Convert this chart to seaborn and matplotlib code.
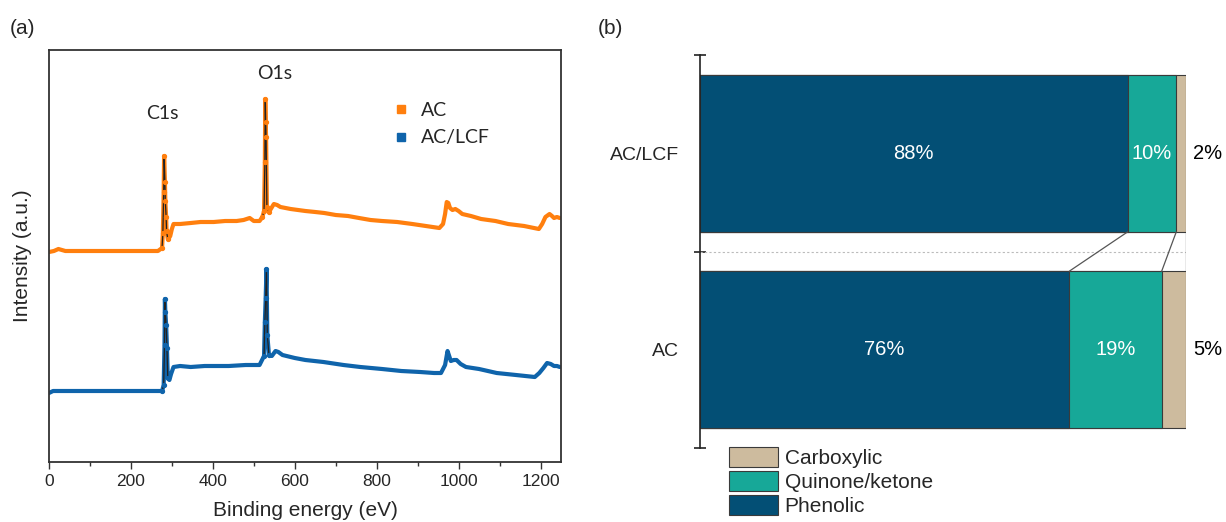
import numpy as np
import pandas as pd
import matplotlib
matplotlib.use("Agg")
import matplotlib.pyplot as plt
from matplotlib.lines import Line2D
from matplotlib.patches import Patch
import seaborn as sns

# ---------------- data ----------------
# XPS survey spectra (binding energy in eV, intensity in a.u.)
ac_energy = [0, 12, 23, 40, 80, 140, 200, 250, 266, 276, 278, 280, 281, 283, 284, 286, 287, 290,
             293, 296, 300, 304, 320, 346, 370, 402, 430, 458, 475, 490, 500, 514, 521, 525,
             527, 528, 529, 530, 532, 537, 543, 549, 557, 565, 590, 626, 650, 672, 700, 730,
             757, 785, 813, 850, 887, 920, 953, 962, 967, 971, 975, 979, 985, 992, 1000, 1009,
             1030, 1055, 1090, 1121, 1160, 1196, 1204, 1212, 1222, 1228, 1233, 1240, 1247]
ac_int = [210, 211, 213, 211, 211, 211, 211, 211, 211, 214, 229, 270, 306, 280, 261, 245, 231, 223,
          224, 226, 233, 238, 238, 239, 240, 240, 241, 241, 242, 244, 241, 241, 245, 251,
          300, 363, 340, 325, 255, 250, 254, 258, 257, 255, 253, 251, 250, 249, 247, 246,
          244, 242, 241, 240, 238, 236, 234, 238, 248, 260, 259, 254, 252, 253, 251, 248,
          246, 243, 241, 238, 236, 233, 238, 245, 248, 246, 244, 245, 244]

lcf_energy = [0, 10, 20, 60, 120, 180, 240, 276, 280, 282, 283, 284, 286, 288, 290, 294, 298,
              304, 320, 346, 380, 439, 480, 514, 525, 527, 529, 531, 533, 537, 544, 553, 560,
              570, 600, 626, 670, 719, 760, 813, 860, 906, 940, 957, 967, 973, 977, 981, 988,
              995, 1005, 1018, 1050, 1093, 1140, 1186, 1197, 1207, 1216, 1225, 1233, 1240, 1247]
lcf_int = [69, 71, 71, 71, 71, 71, 71, 71, 77, 117, 163, 150, 137, 114, 84, 82, 88,
           95, 96, 95, 96, 96, 97, 97, 106, 140, 164, 193, 127, 107, 106, 111, 110,
           107, 104, 102, 100, 97, 95, 93, 91, 90, 89, 89, 97, 111, 106, 101, 102,
           102, 98, 95, 93, 89, 87, 85, 89, 94, 99, 98, 96, 96, 95]

# Oxygen functional group distribution (%)
samples = ["AC/LCF", "AC"]
phenolic = [88, 76]
quinone = [10, 19]
carboxylic = [2, 5]
group_names = ["Carboxylic", "Quinone/ketone", "Phenolic"]

# ---------------- style ----------------
sns.set_style("white")
plt.rcParams["font.family"] = ["Liberation Sans", "DejaVu Sans"]

W, H = 1226, 522
fig = plt.figure(figsize=(W / 100, H / 100), dpi=100)

def ax_rect(x0, y0, x1, y1):
    return [x0 / W, 1 - y1 / H, (x1 - x0) / W, (y1 - y0) / H]

# ---------------- panel (a) ----------------
axa = fig.add_axes(ax_rect(49, 50, 561, 462))
c_ac = "#FF7F0E"
c_lcf = "#0F64AB"

df_ac = pd.DataFrame({"E": ac_energy, "I": ac_int})
df_lcf = pd.DataFrame({"E": lcf_energy, "I": lcf_int})

for df, col in [(df_ac, c_ac), (df_lcf, c_lcf)]:
    sns.lineplot(data=df, x="E", y="I", color=col, lw=3.0, ax=axa, sort=True)
    for lo, hi in [(276, 290), (521, 537)]:
        seg = df[(df["E"] >= lo) & (df["E"] <= hi)]
        axa.plot(seg["E"], seg["I"], color="#222222", lw=0.9)
        axa.plot(seg["E"], seg["I"], ls="none", marker="o", ms=2.8, color=col)

axa.set_xlim(0, 1250)
axa.set_ylim(0, 412)
axa.set_yticks([])
axa.set_xticks([0, 200, 400, 600, 800, 1000, 1200])
axa.set_xticks(np.arange(100, 1250, 200), minor=True)
axa.tick_params(axis="x", which="major", direction="out", length=5, width=1,
                labelsize=12.5, bottom=True, color="#333333", pad=4)
axa.tick_params(axis="x", which="minor", direction="out", length=3, width=1,
                bottom=True, color="#333333")
for s in axa.spines.values():
    s.set_color("#333333")
    s.set_linewidth(1.3)
axa.set_xlabel("Binding energy (eV)", fontsize=15, labelpad=8)
axa.set_ylabel("Intensity (a.u.)", fontsize=15, labelpad=12)

axa.text(276, 349, "C1s", fontsize=14, ha="center", va="center", family=["Lato", "DejaVu Sans"])
axa.text(551, 389, "O1s", fontsize=14, ha="center", va="center", family=["Lato", "DejaVu Sans"])

leg_a = axa.legend(handles=[Line2D([], [], ls="none", marker="s", ms=6, color=c_ac, label="AC"),
                            Line2D([], [], ls="none", marker="s", ms=6, color=c_lcf, label="AC/LCF")],
                   loc="upper left", bbox_to_anchor=(382 / W, 1 - 92 / H), bbox_transform=fig.transFigure,
                   frameon=False, handlelength=1.0, handletextpad=0.5, labelspacing=0.55,
                   borderpad=0, prop={"family": ["Lato", "DejaVu Sans"], "size": 14})

fig.text(10 / W, 1 - 28 / H, "(a)", fontsize=15, ha="left", va="center")
fig.text(598 / W, 1 - 28 / H, "(b)", fontsize=15, ha="left", va="center")

# ---------------- panel (b) ----------------
axb = fig.add_axes(ax_rect(700, 55, 1186, 448))
col_ph = "#034F75"
col_qu = "#17A898"
col_ca = "#CDBB9E"
edge = "#3A3A3A"

cum_ph = np.array(phenolic, dtype=float)
cum_qu = cum_ph + np.array(quinone)
cum_ca = cum_qu + np.array(carboxylic)
dfb = pd.DataFrame({"sample": samples, "ph": cum_ph, "qu": cum_qu, "ca": cum_ca})

for key, col in [("ca", col_ca), ("qu", col_qu), ("ph", col_ph)]:
    sns.barplot(data=dfb, x=key, y="sample", order=samples, orient="h", color=col,
                width=0.8, edgecolor=edge, linewidth=0.8, saturation=1, ax=axb)

axb.set_xlim(0, 100)
axb.set_ylim(1.5, -0.5)
axb.set_xlabel("")
axb.set_ylabel("")
axb.set_xticks([])
axb.set_yticks([-0.5, 0.5, 1.5])
axb.set_yticklabels([])
axb.set_yticks([0, 1], minor=True)
axb.set_yticklabels(samples, minor=True, fontsize=14)
axb.tick_params(axis="y", which="major", direction="inout", length=8, width=1.2, left=True, color="#222222")
axb.tick_params(axis="y", which="minor", length=0, pad=15)
for side in ["top", "right", "bottom"]:
    axb.spines[side].set_visible(False)
axb.spines["left"].set_color("#222222")
axb.spines["left"].set_linewidth(1.2)

# gap decorations: dotted category line and series connectors
axb.plot([0, 100], [0.5, 0.5], ls=(0, (2, 2)), color="#BBBBBB", lw=0.8)
for a, b in zip([cum_ph[0], cum_qu[0], cum_ca[0]], [cum_ph[1], cum_qu[1], cum_ca[1]]):
    axb.plot([a, b], [0.4, 0.6], color="#555555", lw=0.9)

# labels
for i in range(len(samples)):
    axb.text(cum_ph[i] / 2, i, f"{phenolic[i]}%", color="white", fontsize=14.5, ha="center", va="center")
    axb.text((cum_ph[i] + cum_qu[i]) / 2, i, f"{quinone[i]}%", color="white", fontsize=14.5,
             ha="center", va="center")
    axb.text(104.5, i, f"{carboxylic[i]}%", color="black", fontsize=14.5, ha="center", va="center",
             clip_on=False)

handles_b = [Patch(facecolor=c, edgecolor=edge, linewidth=0.8, label=n)
             for n, c in zip(group_names, [col_ca, col_qu, col_ph])]
fig.legend(handles=handles_b, loc="upper left", bbox_to_anchor=(719 / W, 1 - 437 / H),
           frameon=False, handlelength=2.35, handleheight=1.1, handletextpad=0.3,
           labelspacing=0.12, borderpad=0, fontsize=15)

fig.savefig("out.png", dpi=100)
